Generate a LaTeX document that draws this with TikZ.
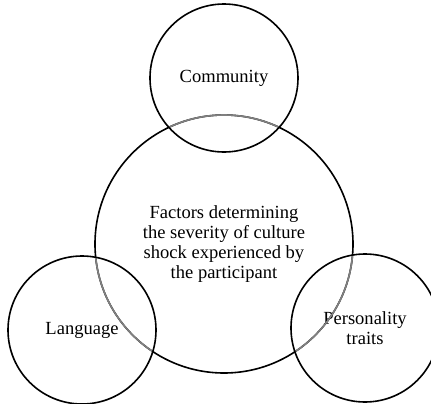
\documentclass[tikz,border=0pt]{standalone}
\usepackage{fontspec}
\setmainfont{Liberation Serif}

\begin{document}
\begin{tikzpicture}[x=1bp,y=-1bp,line width=1.6bp,
  factor/.style={circle,draw,inner sep=0pt,minimum size=148bp,align=center,
    font=\fontsize{18.6}{19.8}\selectfont}]
  \useasboundingbox (0,0) rectangle (431,404);

  \node[factor,minimum size=258bp] (shock) at (224,244)
    {Factors determining\\the severity of culture\\shock experienced by\\the participant};
  \node[factor] (community) at (224,78) {Community};
  \node[factor] (language) at (82,330) {Language};
  \node[factor] (personality) at (365,328) {Personality\\traits};

  % big circle shows through the small ones in grey
  \foreach \f in {community,language,personality} {
    \begin{scope}
      \clip (\f.center) circle (73.1bp);
      \draw[black!50] (shock.center) circle (129bp);
    \end{scope}
  }
\end{tikzpicture}
\end{document}
